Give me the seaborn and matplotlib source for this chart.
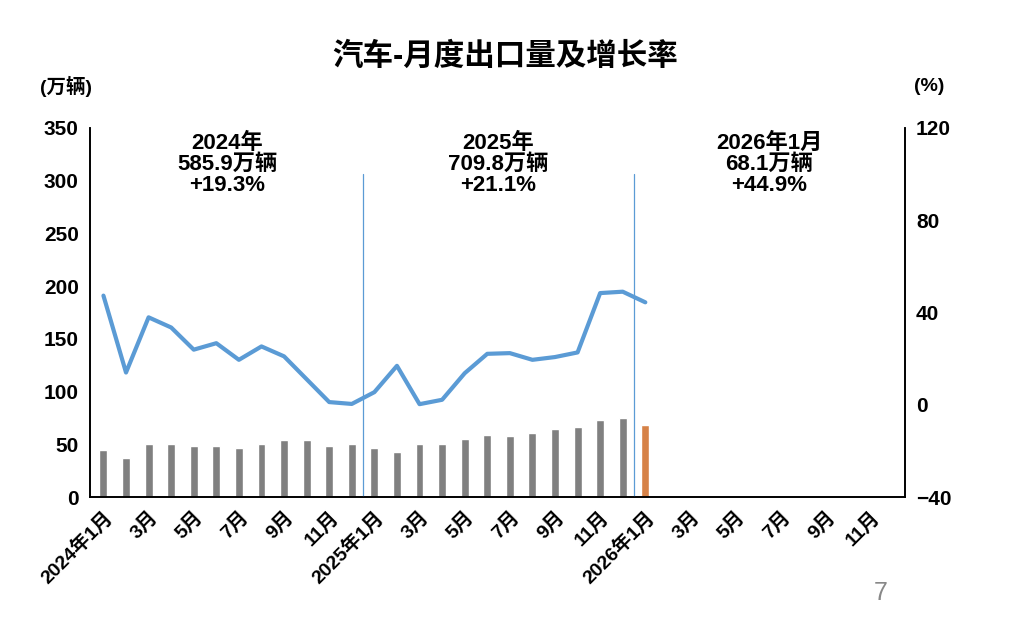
import matplotlib.pyplot as plt
import numpy as np
import pandas as pd
import seaborn as sns

months = [f"{y}-{m:02d}" for y in (2024, 2025, 2026) for m in range(1, 13)]
tick_labels = []
for y in (2024, 2025, 2026):
    for m in range(1, 13):
        if m == 1:
            tick_labels.append(f"{y}年1月")
        elif m % 2 == 1:
            tick_labels.append(f"{m}月")
        else:
            tick_labels.append("")

# exports, 10k vehicles
export_volume = [44.3, 37.6, 50.0, 50.0, 48.1, 48.1, 46.2, 50.9, 53.8, 53.8, 49.0, 50.0,
                 46.2, 43.3, 50.0, 50.9, 54.7, 58.5, 57.6, 60.4, 65.1, 66.1, 72.7, 74.6,
                 68.1]
# year-on-year growth, %
growth_rate = [47.3, 14.0, 37.9, 33.5, 23.9, 26.7, 19.5, 25.3, 21.0, 11.1, 1.2, 0.4,
               5.5, 16.9, 0.3, 2.2, 13.7, 22.1, 22.4, 19.5, 20.7, 22.7, 48.4, 49.0,
               44.4]
annotations = ["2024年\n585.9万辆\n+19.3%", "2025年\n709.8万辆\n+21.1%", "2026年1月\n68.1万辆\n+44.9%"]

sns.set_theme(style="white")
plt.rcParams["font.family"] = ["Liberation Sans", "Noto Sans CJK SC", "DejaVu Sans"]
plt.rcParams["font.weight"] = "bold"
plt.rcParams["text.color"] = "black"
plt.rcParams["xtick.color"] = "black"
plt.rcParams["ytick.color"] = "black"

vals = export_volume + [np.nan] * (len(months) - len(export_volume))
df = pd.DataFrame({"month": months, "volume": vals,
                   "kind": ["past"] * 24 + ["current"] + ["none"] * 11})

fig = plt.figure(figsize=(10.1, 6.2), dpi=100)
ax = fig.add_axes([0.089, 0.198, 0.807, 0.596])
sns.barplot(data=df, x="month", y="volume", hue="kind", order=months,
            palette={"past": "#808080", "current": "#ED7D31", "none": "#808080"},
            width=0.35, dodge=False, legend=False, ax=ax)
ax.set_ylim(0, 350)
ax.set_yticks(range(0, 351, 50))
ax.set_xlim(-0.6, 35.5)
ax.set_xticks(range(len(months)))
ax.set_xticklabels(tick_labels, rotation=45, ha="right", rotation_mode="anchor",
                   fontsize=14, fontweight="bold")
ax.tick_params(axis="x", length=0, pad=8)
ax.tick_params(axis="y", labelsize=15, length=0, pad=8)
ax.set_xlabel("")
ax.set_ylabel("")
for lab in ax.get_yticklabels():
    lab.set_fontweight("bold")

ax2 = ax.twinx()
sns.lineplot(x=np.arange(len(growth_rate)), y=growth_rate, color="#5B9BD5",
             linewidth=3, ax=ax2)
ax2.set_ylim(-40, 120)
ax2.set_yticks(range(-40, 121, 40))
ax2.tick_params(axis="y", labelsize=15, length=0, pad=8)
for lab in ax2.get_yticklabels():
    lab.set_fontweight("bold")

for a in (ax, ax2):
    a.spines["top"].set_visible(False)
    for s in ("left", "right", "bottom"):
        a.spines[s].set_color("black")
        a.spines[s].set_linewidth(1.2)

for xpos in (11.5, 23.5):
    ax2.axvline(xpos, ymin=0, ymax=0.875, color="#5B9BD5", linewidth=0.9)

for xpos, txt in zip((5.5, 17.5, 29.5), annotations):
    ax.text(xpos, 345, txt, ha="center", va="top", fontsize=16,
            fontweight="bold", linespacing=1.0)

fig.text(0.5, 0.908, "汽车-月度出口量及增长率", ha="center", va="center",
         fontsize=22, fontweight="bold")
fig.text(0.04, 0.86, "(万辆)", ha="left", va="center", fontsize=14, fontweight="bold")
fig.text(0.905, 0.86, "(%)", ha="left", va="center", fontsize=14, fontweight="bold")
fig.text(0.872, 0.025, "7", ha="center", va="bottom", fontsize=18, color="#888888",
         fontweight="normal")

fig.savefig("out.png", dpi=100)
